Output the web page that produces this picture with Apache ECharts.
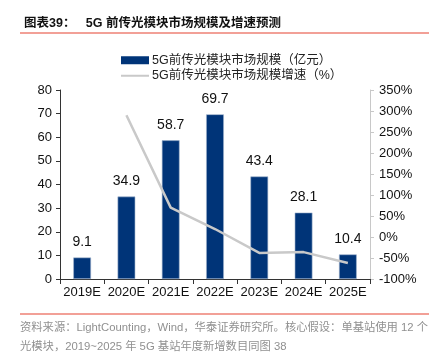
<!DOCTYPE html>
<html>
<head>
<meta charset="utf-8">
<script src="https://cdn.jsdelivr.net/npm/echarts@6/dist/echarts.min.js"></script>
<style>
  html, body { margin: 0; padding: 0; background: #fff; }
  #chart { width: 433px; height: 353px; }
</style>
</head>
<body>
<div id="chart"></div>
<script>
const years = ['2019E', '2020E', '2021E', '2022E', '2023E', '2024E', '2025E'];
const marketSize = [9.1, 34.9, 58.7, 69.7, 43.4, 28.1, 10.4];
const growthRate = [null, 290, 70, 19, -38, -36, -62];
const leftTicks = [0, 80, 10];
const rightTicks = [-100, 350, 50];

const font = 'Liberation Sans, Arial, "Noto Sans CJK SC", sans-serif';
const myChart = echarts.init(document.getElementById('chart'));

let option = {
  animation: false,
  textStyle: { fontFamily: font },
  title: {
    text: '图表39：   5G 前传光模块市场规模及增速预测',
    left: 19,
    top: 12,
    textStyle: { fontSize: 12.5, fontWeight: 'bold', color: '#111', fontFamily: font },
  },
  graphic: [
    { type: 'rect', shape: { x: 20, y: 32, width: 409, height: 2 }, style: { fill: '#f2a097' } },
    { type: 'rect', shape: { x: 20, y: 313, width: 409, height: 2 }, style: { fill: '#f2a097' } },
    {
      type: 'text', left: 20, top: 322,
      style: { text: '资料来源：LightCounting，Wind，华泰证券研究所。核心假设：单基站使用 12 个', fill: '#909090', font: '11.3px ' + font },
    },
    {
      type: 'text', left: 20, top: 341,
      style: { text: '光模块，2019~2025 年 5G 基站年度新增数目同图 38', fill: '#909090', font: '11.3px ' + font },
    },
  ],
  legend: {
    left: 115,
    top: 49,
    orient: 'vertical',
    itemGap: 3,
    itemWidth: 28,
    itemHeight: 8,
    textStyle: { fontSize: 12.5, color: '#222', padding: [0, 0, 0, -2] },
    data: [
      { name: '5G前传光模块市场规模（亿元）', icon: 'rect', itemStyle: { borderWidth: 0 } },
      { name: '5G前传光模块市场规模增速（%）', itemStyle: { opacity: 0 } },
    ],
  },
  grid: { left: 60, right: 63, top: 90, bottom: 74 },
  xAxis: {
    type: 'category',
    data: years,
    axisLine: { lineStyle: { color: '#333' } },
    axisTick: { show: true, length: 5, lineStyle: { color: '#333' } },
    axisLabel: { fontSize: 13, color: '#111', margin: 7, interval: 0 },
  },
  yAxis: [
    {
      type: 'value',
      min: leftTicks[0],
      max: leftTicks[1],
      interval: leftTicks[2],
      splitLine: { show: false },
      axisLine: { show: true, lineStyle: { color: '#333' } },
      axisTick: { show: true, length: 4, lineStyle: { color: '#333' } },
      axisLabel: { fontSize: 13, color: '#111', margin: 8 },
    },
    {
      type: 'value',
      min: rightTicks[0],
      max: rightTicks[1],
      interval: rightTicks[2],
      splitLine: { show: false },
      axisLine: { show: true, lineStyle: { color: '#c8c8c8' } },
      axisTick: { show: true, length: 4, lineStyle: { color: '#c8c8c8' } },
      axisLabel: { fontSize: 13, color: '#111', margin: 9, formatter: '{value}%' },
    },
  ],
  series: [
    {
      name: '5G前传光模块市场规模（亿元）',
      type: 'bar',
      barWidth: '40%',
      data: marketSize,
      itemStyle: { color: '#003478', borderColor: '#9fb3cc', borderWidth: 0.6 },
      label: { show: true, position: 'top', fontSize: 14, color: '#111', distance: 8 },
    },
    {
      name: '5G前传光模块市场规模增速（%）',
      type: 'line',
      yAxisIndex: 1,
      data: growthRate,
      symbol: 'none',
      lineStyle: { color: '#c9c9c9', width: 2.5 },
      itemStyle: { color: '#c9c9c9' },
    },
  ],
};

myChart.setOption(option);
</script>
</body>
</html>
